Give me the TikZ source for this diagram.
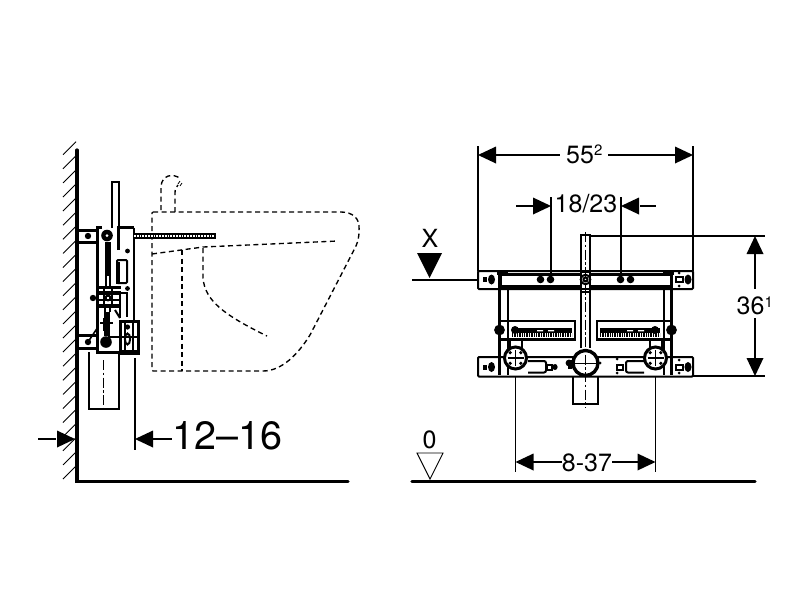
\documentclass[tikz,border=0pt]{standalone}
\usepackage{fontspec}
\setmainfont{TeX Gyre Heros}
\tikzset{
 dim/.style={line width=1.25pt,black},
 wall/.style={line width=3.2pt,black},
 heavy/.style={line width=3pt,black},
 med/.style={line width=2pt,black},
 basin/.style={line width=1.35pt,black,dash pattern=on 5pt off 3.5pt},
 centre/.style={line width=0.9pt,black,dash pattern=on 10pt off 2.5pt on 2.5pt off 2.5pt},
 lbl/.style={inner sep=0pt,text=black,font=\fontsize{25}{25}\selectfont,anchor=base},
 ah/.style={fill=black,draw=none}
}
\newcommand{\tipR}[2]{\fill[ah] (#1,#2) -- ++(-18,-8.5) -- ++(0,17) -- cycle;}
\newcommand{\tipL}[2]{\fill[ah] (#1,#2) -- ++(18,-8.5) -- ++(0,17) -- cycle;}
\newcommand{\tipU}[2]{\fill[ah] (#1,#2) -- ++(-8.5,18) -- ++(17,0) -- cycle;}
\newcommand{\tipD}[2]{\fill[ah] (#1,#2) -- ++(-8.5,-18) -- ++(17,0) -- cycle;}
\newcommand{\bolt}[2]{\fill[black] (#1,#2) circle (3.8pt);}
\newcommand{\supdig}[1]{\raisebox{7.5pt}{\fontsize{15}{15}\selectfont #1}}
\begin{document}
\begin{tikzpicture}[x=1pt,y=-1pt]
\useasboundingbox (0,0) rectangle (800,600);
\fill[white] (0,0) rectangle (800,600);

% ---------- left view: wall and floor
\draw[wall,line cap=round] (77,150) -- (77,481.5) -- (348,481.5);
\foreach \k in {0,...,23}{
  \draw[line width=0.9pt] (63,479-14.1*\k) -- (76,466-14.1*\k);
}

% basin, dashed
\draw[basin,rounded corners=1pt] (152,212) -- (340,212)
  .. controls (352,212) and (360,218) .. (359,230)
  .. controls (359,237) and (358,241) .. (356,246)
  -- (310,335)
  .. controls (298,354) and (282,371) .. (262,371)
  -- (152,371) -- cycle;
\draw[basin] (152,254) -- (203,247) -- (338,241);
\draw[basin] (182,250) -- (182,371);
\draw[basin] (203,248) -- (203,278) .. controls (205,300) and (222,314) .. (267,336);
\draw[basin] (161,210) -- (161,186) .. controls (162,176) and (172,172) .. (181,179);
\draw[basin] (175,212) -- (175,193) .. controls (175,189) and (176,187) .. (178,185);
\draw[line width=0.8pt] (180,186) -- (182,183) (178,184) -- (180,181);

% tall box under frame and rod above
\draw[med] (89,352) -- (89,409) -- (119,409) -- (119,352);
\draw[centre] (103,360) -- (103,412);
\draw[med] (112,228) -- (112,182) -- (119,182) -- (119,228);
\draw[dim] (135,358) -- (135,450);

% frame
\draw[heavy] (102,227.5) -- (97,227.5) -- (97,352.5) -- (120,352.5);
\draw[heavy] (118,250) -- (118,227.5) -- (133.5,227.5);
\draw[med] (133.5,227.5) -- (133.5,321);
% wall brackets
\draw[heavy] (78,230) -- (97,230) (78,242) -- (97,242);
\draw[heavy] (78,335) -- (97,335) (78,348) -- (97,348);
\fill (88,236) circle (3.2pt);
\fill (88,342) circle (3.2pt);
\fill (127.5,251) circle (2.4pt);
\fill (127.5,288.5) circle (2.4pt);
% threaded rod
\draw[line width=6pt] (133,236) -- (216,236);
\draw[white,line width=2pt,dash pattern=on 1.8pt off 1pt] (134,236) -- (214,236);
% spring and rollers
\fill (107,235.5) circle (5.8pt);
\fill[white] (107,235.5) circle (1.5pt);
\draw[line width=5.5pt] (108,242) -- (108,276);
\draw[med] (106,276) -- (106,287) (110,276) -- (110,287);
\fill (106,342) circle (5.8pt);
\draw[line width=6pt] (107,312) -- (107,336);
\draw[med] (105,306) -- (105,312) (110,306) -- (110,312);
% small box
\draw[med,rounded corners=1pt] (117,260) rectangle (127,283);
\fill (115.5,262) rectangle (119.5,284);
% cross band
\draw[heavy] (96,287) -- (121,287);
\draw[line width=3.6pt] (96,293) -- (121,293);
\draw[line width=3.4pt] (96,306) -- (121,306);
\draw[med] (96,300) -- (120,300);
\fill (93,298) circle (3.2pt);
\draw[med,fill=white] (108,298) circle (2.4pt);
\draw[med] (104,287) -- (104,306) (112,287) -- (112,306);
% lower mechanism
\draw[med] (120,293) -- (127,293) -- (127,317) (120,293) -- (120,318);
\draw[heavy] (120,321) rectangle (138,353);
\draw[line width=2.4pt] (125,321) -- (125,353) (133,321) -- (133,353);
\fill (127.5,327) circle (2.6pt);
\draw[med] (127.5,339) ellipse (2.6pt and 5.5pt);
\draw[med] (108,337) -- (140,337);
\draw[line width=1.6pt] (88,342) -- (98,327);
\draw[line width=1.2pt] (100,323) -- (113,323) (104,318) -- (104,331);
\draw[med] (115,310) -- (120,318);
\fill (120,350) rectangle (137,355);

% left dimension
\draw[dim] (38,439) -- (56,439);
\tipR{75}{439}
\draw[dim] (152,439) -- (172,439);
\tipL{135}{439}
\node[lbl,font=\fontsize{39.5}{40}\selectfont] (t1216) at (227.5,449) {12–16};

% ---------- right view: floor
\draw[wall,line cap=round] (412,481.5) -- (755,481.5);

% centre pipes
\draw[med] (581,348) -- (581,235) -- (590,235) -- (590,348);
\draw[med] (573,377) -- (573,404) -- (598,404) -- (598,377);

% plates
\draw[med,rounded corners=1pt,fill=white] (478,271) rectangle (693,289);
\draw[med,rounded corners=1pt,fill=white] (478,357) rectangle (693,376.5);

% frame: posts and rails
\draw[heavy] (500,274) rectangle (671,286);
\draw[med] (507.5,286) -- (507.5,375) (664,286) -- (664,375);
\draw[heavy] (499.5,274) -- (499.5,375) (671.5,274) -- (671.5,375);
\draw[med] (507,289) -- (581,289) (590,289) -- (664,289);
\fill (497,271) rectangle (508,274.5);
\fill (663,271) rectangle (674,274.5);
\draw[med,fill=white] (581,272) rectangle (590,289);
\draw[med,fill=white] (585.5,279.5) circle (4.8pt);
\draw[med] (585.5,279.5) circle (2pt);
\draw[med,fill=white] (581,289) rectangle (590,292);
\draw[med] (581,292) -- (581,348) (590,292) -- (590,348);

% plate bolts
\bolt{540.5}{279.5}\bolt{550.5}{279.5}
\bolt{620.5}{279.5}\bolt{630.5}{279.5}

% slide boxes
\draw[line width=2.6pt] (500,321) -- (575,321) -- (575,339.5) -- (500,339.5);
\draw[line width=2.6pt] (671,321) -- (597,321) -- (597,339.5) -- (671,339.5);
\fill (499,339) rectangle (575.5,341);
\fill (596.5,339) rectangle (672,341);
\foreach \xo/\xe in {512/572,600/660}{
  \fill (\xo,328) rectangle (\xe,332.5);
  \draw[line width=4.5pt,dash pattern=on 1.3pt off 1.1pt] (\xo,335) -- (\xe,335);
}
\fill[white] (537,330) rectangle (543,331.3) (548,330) rectangle (554,331.3) (627,330) rectangle (633,331.3) (638,330) rectangle (644,331.3);
\fill (499.5,330) circle (5.4pt);
\fill (671.5,330) circle (5.4pt);
\fill (515,330) circle (4pt);
\fill (655,330) circle (4pt);

% slots in lower plate
\draw[med,rounded corners=2pt] (528,361) -- (546,361) -- (546,372.5) -- (528,372.5);
\draw[med,rounded corners=2pt] (644,361) -- (626,361) -- (626,372.5) -- (644,372.5);
\draw[med,fill=white] (547,364.5) rectangle (552,369.5);
\fill (555,367) ellipse (2.6pt and 3pt);
\draw[med,fill=white] (617,364.5) rectangle (623,369.5);
\fill (617,359) circle (1.5pt) (617,373) circle (1.5pt);

% round fittings
\foreach \cx in {515.5,655.5}{
  \draw[med] (\cx-6,340) -- (\cx-6,349) (\cx+6,340) -- (\cx+6,349);
  \draw[heavy,fill=white] (\cx,358) circle (11pt);
  \draw[line width=1.2pt] (\cx-8,358) -- (\cx+8,358) (\cx,350) -- (\cx,366);
  \foreach \a in {45,135,225,315}{
    \fill (\cx,358) ++(\a:7.5pt) circle (1.8pt);
  }
}
% large centre ring
\fill (568,360) rectangle (572,369);
\fill (569,363) circle (3.4pt);
\fill (600,363) circle (1.5pt);
\draw[line width=3.4pt,fill=white] (585.5,363) circle (12.5pt);
\draw[line width=0.9pt] (571,363) -- (600,363);

% centre line
\draw[centre] (585.5,232) -- (585.5,408);

% end fixings of the plates
\fill (491.5,279.5) ellipse (3.5pt and 5pt);
\fill (483,277) rectangle (487,282);
\fill (688,279.5) ellipse (3.5pt and 5pt);
\draw[med,fill=white] (676,277) rectangle (683,282);
\fill (679,273) circle (1.5pt) (679,286) circle (1.5pt);
\fill (491.5,367) ellipse (3.5pt and 5pt);
\fill (483,364.5) rectangle (487,369.5);
\fill (688,367) ellipse (3.5pt and 5pt);
\draw[med,fill=white] (676,364.5) rectangle (683,369.5);
\fill (679,360) circle (1.5pt) (679,373) circle (1.5pt);

% dimensions, right view
\draw[dim] (478,146) -- (478,271);
\draw[dim] (693,146) -- (693,271);
\tipL{478}{155}\tipR{693}{155}
\draw[dim] (490,155) -- (560,155) (608,155) -- (680,155);
\node[lbl,anchor=base west] (t552) at (566,163) {55\supdig{2}};

\draw[dim] (551,197) -- (551,280);
\draw[dim] (621,197) -- (621,280);
\draw[dim] (516,206) -- (535,206) (640,206) -- (656,206);
\tipR{551}{206}\tipL{621}{206}
\node[lbl] (t1823) at (586,212) {18/23};

\node[lbl] (tx) at (430,247) {X};
\fill[ah] (417,253) -- (442,253) -- (429.5,278) -- cycle;
\draw[dim] (412,280) -- (478,280);

\draw[dim] (590,236) -- (765,236);
\draw[dim] (693,376) -- (765,376);
\tipU{755}{236}\tipD{755}{376}
\draw[dim] (755,250) -- (755,289) (755,318) -- (755,362);
\node[lbl,anchor=base west] (t361) at (736.5,314.5) {36\supdig{1}};

\draw[dim] (515.5,376) -- (515.5,472);
\draw[dim] (655.5,376) -- (655.5,472);
\draw[dim] (530,462) -- (562,462) (612,462) -- (640,462);
\tipL{515.5}{462}\tipR{655.5}{462}
\node[lbl] (t837) at (587,471) {8-37};

\node[lbl] (t0) at (429.5,448) {0};
\draw[line width=0.9pt] (417,453) -- (443,453) -- (430,479) -- cycle;
\end{tikzpicture}
\end{document}
